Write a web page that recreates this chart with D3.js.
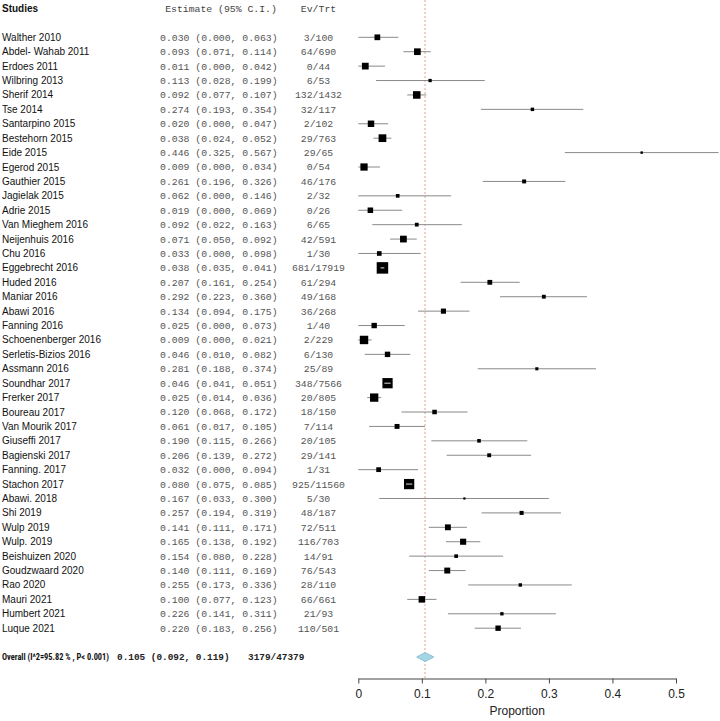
<!DOCTYPE html>
<html><head><meta charset="utf-8">
<script src="https://cdn.jsdelivr.net/npm/d3@7"></script>
<style>body{margin:0;background:#fff}svg{display:block}</style>
</head><body>
<script>
const studies = ["Walther 2010","Abdel- Wahab 2011","Erdoes 2011","Wilbring 2013","Sherif 2014","Tse 2014","Santarpino 2015","Bestehorn 2015","Eide 2015","Egerod 2015","Gauthier 2015","Jagielak 2015","Adrie 2015","Van Mieghem 2016","Neijenhuis 2016","Chu 2016","Eggebrecht 2016","Huded 2016","Maniar 2016","Abawi 2016","Fanning 2016","Schoenenberger 2016","Serletis-Bizios 2016","Assmann 2016","Soundhar 2017","Frerker 2017","Boureau 2017","Van Mourik 2017","Giuseffi 2017","Bagienski 2017","Fanning. 2017","Stachon 2017","Abawi. 2018","Shi 2019","Wulp 2019","Wulp. 2019","Beishuizen 2020","Goudzwaard 2020","Rao 2020","Mauri 2021","Humbert 2021","Luque 2021"];
const estimate = [0.030,0.093,0.011,0.113,0.092,0.274,0.020,0.038,0.446,0.009,0.261,0.062,0.019,0.092,0.071,0.033,0.038,0.207,0.292,0.134,0.025,0.009,0.046,0.281,0.046,0.025,0.120,0.061,0.190,0.206,0.032,0.080,0.167,0.257,0.141,0.165,0.154,0.140,0.255,0.100,0.226,0.220];
const lower = [0.000,0.071,0.000,0.028,0.077,0.193,0.000,0.024,0.325,0.000,0.196,0.000,0.000,0.022,0.050,0.000,0.035,0.161,0.223,0.094,0.000,0.000,0.010,0.188,0.041,0.014,0.068,0.017,0.115,0.139,0.000,0.075,0.033,0.194,0.111,0.138,0.080,0.111,0.173,0.077,0.141,0.183];
const upper = [0.063,0.114,0.042,0.199,0.107,0.354,0.047,0.052,0.567,0.034,0.326,0.146,0.069,0.163,0.092,0.098,0.041,0.254,0.360,0.175,0.073,0.021,0.082,0.374,0.051,0.036,0.172,0.105,0.266,0.272,0.094,0.085,0.300,0.319,0.171,0.192,0.228,0.169,0.336,0.123,0.311,0.256];
const events = [3,64,0,6,132,32,2,29,29,0,46,2,0,6,42,1,681,61,49,36,1,2,6,25,348,20,18,7,20,29,1,925,5,48,72,116,14,76,28,66,21,110];
const totals = [100,690,44,53,1432,117,102,763,65,54,176,32,26,65,591,30,17919,294,168,268,40,229,130,89,7566,805,150,114,105,141,31,11560,30,187,511,703,91,543,110,661,93,501];
const overallLabel = "Overall (I^2=95.82 % , P< 0.001)";
const overall = {est:0.105, lo:0.092, hi:0.119, ev:3179, n:47379};
const xTicks = [0,0.1,0.2,0.3,0.4,0.5];
const headers = ["Studies","Estimate (95% C.I.)","Ev/Trt"];
const xLabel = "Proportion";

const W=720,H=721;
const svg=d3.select("body").append("svg").attr("width",W).attr("height",H);
const x=d3.scaleLinear().domain([0,0.5]).range([358.3,676]);
const y=d3.scaleLinear().domain([0,studies.length-1]).range([37.3,628.2]);
const axisY=678.5;
const fmt=d3.format(".3f");
const sans="Arial, 'Liberation Sans', sans-serif";
const narrow="'Liberation Sans Narrow','Arial Narrow','Roboto Condensed', Arial, sans-serif";
const mono="'Liberation Mono','Courier New',monospace";

const data=studies.map((s,i)=>({s,est:estimate[i],lo:lower[i],hi:upper[i],ev:events[i],n:totals[i],i}));
const prec=data.map(d=>1/(d.hi-d.lo));
const size=d3.scaleLog().domain(d3.extent(prec)).range([2.2,11.5]);

// headers
const hy=y(-2);
svg.append("text").attr("x",2).attr("y",hy).attr("dy","0.35em").attr("font-family",sans).attr("font-weight","bold").attr("font-size",10).attr("fill","#111").text(headers[0]);
svg.append("text").attr("x",221).attr("y",hy).attr("dy","0.35em").attr("text-anchor","middle").attr("font-family",mono).attr("font-size",9.8).attr("fill","#444").text(headers[1]);
svg.append("text").attr("x",318.5).attr("y",hy).attr("dy","0.35em").attr("text-anchor","middle").attr("font-family",mono).attr("font-size",9.8).attr("fill","#444").text(headers[2]);

// dashed reference line
svg.append("line").attr("x1",x(overall.est)).attr("x2",x(overall.est)).attr("y1",0).attr("y2",axisY)
  .attr("stroke","#e8807a").attr("stroke-width",0.8).attr("stroke-dasharray","2,2");

const rows=svg.append("g").selectAll("g").data(data).join("g").attr("transform",d=>`translate(0,${y(d.i)})`);
rows.append("text").attr("x",2).attr("dy","0.35em").attr("font-family",sans).attr("font-size",10).attr("fill","#111").text(d=>d.s);
rows.append("text").attr("x",160).attr("dy","0.35em").attr("font-family",mono).attr("font-size",9.8).attr("fill","#555").attr("xml:space","preserve")
  .text(d=>`${fmt(d.est)} (${fmt(d.lo)}, ${fmt(d.hi)})`);
rows.append("text").attr("x",318.5).attr("dy","0.35em").attr("text-anchor","middle").attr("font-family",mono).attr("font-size",9.8).attr("fill","#555").text(d=>`${d.ev}/${d.n}`);
rows.append("line").attr("x1",d=>x(d.lo)).attr("x2",d=>x(d.hi)).attr("stroke","#8a8a8a").attr("stroke-width",1);
rows.append("rect").attr("x",(d,i)=>x(d.est)-size(prec[i])/2).attr("y",(d,i)=>-size(prec[i])/2)
  .attr("width",(d,i)=>size(prec[i])).attr("height",(d,i)=>size(prec[i])).attr("fill","#000");
rows.filter((d,i)=>size(prec[i])>=9).append("line")
  .attr("x1",d=>Math.max(x(d.lo),x(d.est)-size(1/(d.hi-d.lo))/2+2)).attr("x2",d=>Math.min(x(d.hi),x(d.est)+size(1/(d.hi-d.lo))/2-2))
  .attr("stroke","#ddd").attr("stroke-width",1);

// overall
const oy=y(studies.length+1);
svg.append("text").attr("x",2).attr("y",oy).attr("dy","0.35em").attr("font-family",narrow).attr("font-weight","bold").attr("font-size",9.6).attr("fill","#111")
  .attr("textLength",107).attr("lengthAdjust","spacingAndGlyphs").text(overallLabel);
svg.append("text").attr("x",117).attr("y",oy).attr("dy","0.35em").attr("font-family",mono).attr("font-weight","bold").attr("font-size",9.4).attr("fill","#222").attr("xml:space","preserve")
  .text(`${fmt(overall.est)} (${fmt(overall.lo)}, ${fmt(overall.hi)})`);
svg.append("text").attr("x",248).attr("y",oy).attr("dy","0.35em").attr("font-family",mono).attr("font-weight","bold").attr("font-size",9.4).attr("fill","#222").text(`${overall.ev}/${overall.n}`);
svg.append("path").attr("d",`M${x(overall.lo)},${oy} L${x(overall.est)},${oy-4.5} L${x(overall.hi)},${oy} L${x(overall.est)},${oy+4.5} Z`)
  .attr("fill","#a3d6e6").attr("stroke","#7fb7c9").attr("stroke-width",0.8);

// axis
const ax=svg.append("g").attr("transform",`translate(0,${axisY})`)
  .call(d3.axisBottom(x).tickValues(xTicks).tickFormat(d=>d===0?"0":d3.format(".1f")(d)).tickSize(5).tickSizeOuter(0).tickPadding(6));
ax.select(".domain").attr("stroke","#444");
ax.selectAll(".tick line").attr("stroke","#444");
ax.selectAll(".tick text").attr("font-family",sans).attr("font-size",12).attr("fill","#222");
svg.append("text").attr("x",x(0.25)).attr("y",715).attr("text-anchor","middle").attr("font-family",sans).attr("font-size",12).attr("fill","#222").text(xLabel);
</script>
</body></html>
